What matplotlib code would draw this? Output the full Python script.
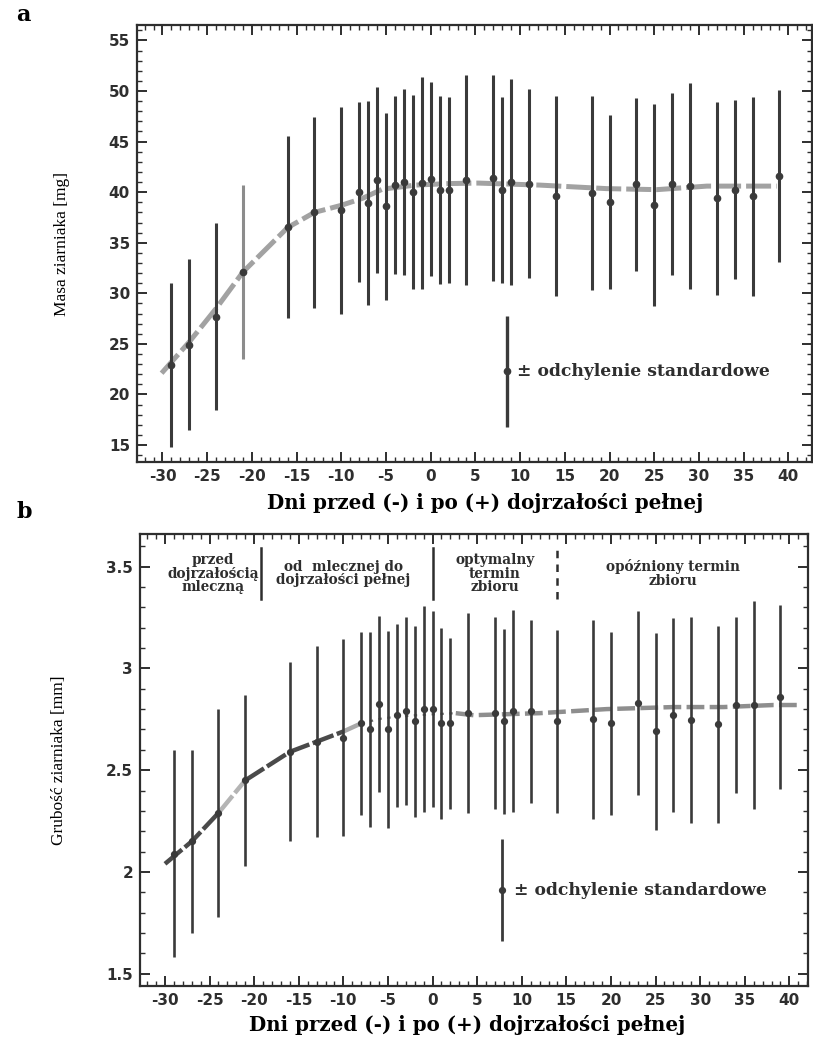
import matplotlib
matplotlib.use("Agg")
import matplotlib.pyplot as plt
from matplotlib.ticker import MultipleLocator, FormatStrFormatter

plt.rcParams['font.family'] = ['DejaVu Sans']
plt.rcParams['axes.unicode_minus'] = False

# dni wzgledem dojrzalosci pelnej
days = [-29, -27, -24, -21, -16, -13, -10, -8, -7, -6, -5, -4, -3, -2, -1, 0, 1, 2,
        4, 7, 8, 9, 11, 14, 18, 20, 23, 25, 27, 29, 32, 34, 36, 39]

# a - masa ziarniaka [mg]
mass_mean = [22.9, 24.9, 27.7, 32.1, 36.6, 38.0, 38.2, 40.0, 38.9, 41.2, 38.6, 40.75,
             41.0, 40.0, 40.9, 41.3, 40.2, 40.2, 41.2, 41.4, 40.25, 41.0, 40.85, 39.6,
             39.9, 39.0, 40.8, 38.7, 40.85, 40.6, 39.4, 40.25, 39.6, 41.6]
mass_sd = [8.1, 8.45, 9.25, 8.6, 9.0, 9.45, 10.2, 8.9, 10.1, 9.2, 9.25, 8.8,
           9.2, 9.6, 10.45, 9.55, 9.3, 9.2, 10.4, 10.2, 9.2, 10.15, 9.35, 9.9,
           9.6, 8.6, 8.55, 10.0, 9.0, 10.15, 9.55, 8.85, 9.85, 8.5]

# b - grubosc ziarniaka [mm]
thick_mean = [2.09, 2.15, 2.29, 2.45, 2.59, 2.64, 2.66, 2.73, 2.70, 2.825, 2.70, 2.77,
              2.79, 2.74, 2.80, 2.80, 2.73, 2.73, 2.78, 2.78, 2.74, 2.79, 2.79, 2.74,
              2.75, 2.73, 2.83, 2.69, 2.77, 2.745, 2.725, 2.82, 2.82, 2.86]
thick_sd = [0.51, 0.45, 0.51, 0.42, 0.44, 0.47, 0.485, 0.45, 0.48, 0.43, 0.485, 0.45,
            0.46, 0.47, 0.505, 0.48, 0.47, 0.42, 0.49, 0.47, 0.455, 0.495, 0.45, 0.45,
            0.49, 0.45, 0.45, 0.485, 0.475, 0.505, 0.485, 0.43, 0.51, 0.45]

# krzywe dopasowania
mass_curve_x = [-30.1, -27, -24, -21, -16, -13, -10, -7.6, -5.4, -1.7, 2, 5.3, 12.2,
                19.7, 25.3, 30.9, 38.7]
mass_curve_y = [22.1, 25.2, 28.5, 32.1, 36.5, 38.0, 38.7, 39.4, 40.3, 40.7, 40.85, 40.9,
                40.7, 40.35, 40.25, 40.6, 40.6]
thick_curve_x = [-30, -27, -24, -21, -16, -13, -10, -8, -5.6, -1.9, 2.6, 4.6, 12,
                 19.5, 27, 32.6, 38.2, 41]
thick_curve_y = [2.04, 2.15, 2.29, 2.45, 2.59, 2.64, 2.69, 2.73, 2.755, 2.77, 2.78, 2.77,
                 2.78, 2.80, 2.81, 2.81, 2.82, 2.82]

# probka legendy (srednia +/- odchylenie)
legend_a = (8.5, 22.3, 5.5)
legend_b = (7.8, 1.91, 0.25)

stages = ["przed\ndojrzałością\nmleczną", "od  mlecznej do\ndojrzałości pełnej",
          "optymalny\ntermin\nzbioru", "opóźniony termin\nzbioru"]
stage_x = [-24.6, -10.0, 7.0, 27.0]
stage_bounds = [-19.2, 0, 14]

xlabel = "Dni przed (-) i po (+) dojrzałości pełnej"
dark = '#3a3a3a'

fig = plt.figure(figsize=(8.13, 10.48), dpi=100)
ax1 = fig.add_axes([137/813, 1-462/1048, 675/813, 437/1048])
ax2 = fig.add_axes([140/813, 1-986/1048, 668/813, 452/1048])


def style_axis(ax):
    for s in ax.spines.values():
        s.set_linewidth(1.6)
        s.set_color('#2e2e2e')
    ax.tick_params(which='both', direction='in', top=True, right=True,
                   color='#2e2e2e', labelcolor='#2e2e2e')
    ax.tick_params(which='major', length=7, width=1.4, labelsize=11, pad=5)
    ax.tick_params(which='minor', length=3.5, width=1.0)
    for lab in ax.get_xticklabels() + ax.get_yticklabels():
        lab.set_fontweight('bold')


# ---- a ----
ax1.plot(mass_curve_x, mass_curve_y, color='#a2a2a2', lw=3.6,
         ls=(0, (5, 1)), solid_capstyle='butt', zorder=1)
light = [i for i, d in enumerate(days) if d == -21]
for i in range(len(days)):
    c = '#8c8c8c' if i in light else dark
    ax1.errorbar(days[i], mass_mean[i], yerr=mass_sd[i], fmt='o', ms=4.5,
                 color=dark, ecolor=c, elinewidth=2.2, capsize=0, zorder=3)
ax1.errorbar(legend_a[0], legend_a[1], yerr=legend_a[2], fmt='o', ms=4.5,
             color=dark, ecolor=dark, elinewidth=2.4, capsize=0)
ax1.text(legend_a[0] + 1.2, legend_a[1], "± odchylenie standardowe", family='DejaVu Serif',
         fontweight='bold', fontsize=12.3, va='center', ha='left', color='#2e2e2e')

ax1.set_xlim(-32.85, 42.65)
ax1.set_ylim(13.32, 56.53)
ax1.xaxis.set_major_locator(MultipleLocator(5))
ax1.xaxis.set_minor_locator(MultipleLocator(1))
ax1.yaxis.set_major_locator(MultipleLocator(5))
ax1.yaxis.set_minor_locator(MultipleLocator(1))
ax1.set_ylabel("Masa ziarniaka [mg]", family='Liberation Serif', fontsize=12.5, labelpad=28)
ax1.set_xlabel(xlabel, family='DejaVu Serif', fontweight='bold', fontsize=14.3, labelpad=5)
ax1.xaxis.set_label_coords(0.515, -0.07)
style_axis(ax1)

# ---- b ----
segs = [(0, 3, '#4a4a4a', 3.2, (0, (5, 0.8))),
        (2, 4, '#b4b4b4', 3.2, (0, (5, 0.8))),
        (3, 7, '#4a4a4a', 3.2, (0, (5, 0.8))),
        (6, 8, '#a8a8a8', 3.2, (0, (5, 0.8))),
        (7, 11, '#6a6a6a', 1.6, (0, (1.5, 2.5))),
        (10, 18, '#8e8e8e', 3.2, (0, (4, 1.2)))]
for a, b, c, w, st in segs:
    ax2.plot(thick_curve_x[a:b], thick_curve_y[a:b], color=c, lw=w, ls=st, zorder=1)
ax2.errorbar(days, thick_mean, yerr=thick_sd, fmt='o', ms=4.2, color=dark,
             ecolor=dark, elinewidth=1.9, capsize=0, zorder=3)
ax2.errorbar(legend_b[0], legend_b[1], yerr=legend_b[2], fmt='o', ms=4.2,
             color=dark, ecolor=dark, elinewidth=2.0, capsize=0)
ax2.text(legend_b[0] + 1.3, legend_b[1], "± odchylenie standardowe", family='DejaVu Serif',
         fontweight='bold', fontsize=12.3, va='center', ha='left', color='#2e2e2e')

for i, bx in enumerate(stage_bounds):
    ax2.plot([bx, bx], [3.34, 3.59], color='#2e2e2e', lw=1.8,
             ls='-' if i < 2 else (0, (3, 2.5)))
for sx, st in zip(stage_x, stages):
    ax2.text(sx, 3.465, st, family='DejaVu Serif', fontweight='bold', fontsize=9.8,
             ha='center', va='center', linespacing=0.95, color='#2e2e2e')

ax2.set_xlim(-32.8, 42.09)
ax2.set_ylim(1.44, 3.66)
ax2.xaxis.set_major_locator(MultipleLocator(5))
ax2.xaxis.set_minor_locator(MultipleLocator(1))
ax2.yaxis.set_major_locator(MultipleLocator(0.5))
ax2.yaxis.set_minor_locator(MultipleLocator(0.1))
ax2.yaxis.set_major_formatter(FormatStrFormatter('%g'))
ax2.set_ylabel("Grubość ziarniaka [mm]", family='Liberation Serif', fontsize=12.5, labelpad=28)
ax2.set_xlabel(xlabel, family='DejaVu Serif', fontweight='bold', fontsize=14.3, labelpad=5)
ax2.xaxis.set_label_coords(0.49, -0.065)
style_axis(ax2)

fig.text(16/813, 1-15/1048, "a", family='DejaVu Serif', fontweight='bold', fontsize=16,
         va='center', ha='left')
fig.text(16/813, 1-512/1048, "b", family='DejaVu Serif', fontweight='bold', fontsize=16,
         va='center', ha='left')

fig.savefig("out.png", dpi=100)
